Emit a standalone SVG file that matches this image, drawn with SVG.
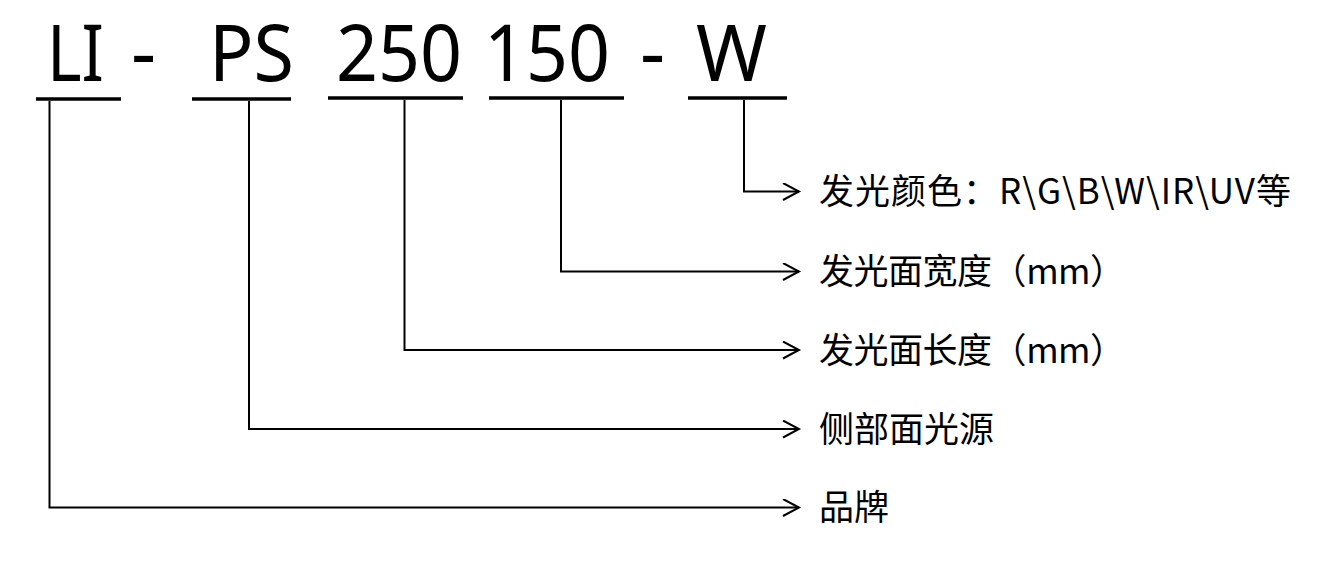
<svg xmlns="http://www.w3.org/2000/svg" width="1320" height="561" viewBox="0 0 1320 561">
<style>
.code{font-family:"Noto Sans","Liberation Sans",sans-serif;font-size:78px;fill:#000}
.lbl{font-family:"Noto Sans CJK SC","Noto Sans",sans-serif;font-size:35px;fill:#000}
.ul{stroke:#000;stroke-width:3.3;fill:none}
.con{stroke:#000;stroke-width:2;fill:none}
</style>
<defs>
<marker id="arr" markerWidth="20" markerHeight="20" refX="17" refY="9" orient="auto" markerUnits="userSpaceOnUse">
<path d="M1,0.5 L17,9 L1,17.5" fill="none" stroke="#000" stroke-width="2"/>
</marker>
</defs>
<rect width="1320" height="561" fill="#fff"/>
<g id="code">
<g id="seg-brand"><text class="code" x="47" y="81" textLength="57" lengthAdjust="spacingAndGlyphs">LI</text><line class="ul" x1="36" y1="99" x2="121" y2="99"/></g>
<text class="code" x="131" y="80">-</text>
<g id="seg-type"><text class="code" x="209" y="81" textLength="85" lengthAdjust="spacingAndGlyphs">PS</text><line class="ul" x1="192" y1="99" x2="291" y2="99"/></g>
<g id="seg-length"><text class="code" x="336" y="81" textLength="126" lengthAdjust="spacingAndGlyphs">250</text><line class="ul" x1="328" y1="98" x2="463" y2="98"/></g>
<g id="seg-width"><text class="code" x="484" y="81" textLength="126" lengthAdjust="spacingAndGlyphs">150</text><line class="ul" x1="489" y1="98" x2="624" y2="98"/></g>
<text class="code" x="640" y="80">-</text>
<g id="seg-color"><text class="code" x="696" y="81" textLength="71" lengthAdjust="spacingAndGlyphs">W</text><line class="ul" x1="688" y1="98" x2="787" y2="98"/></g>
</g>
<g id="connectors">
<path class="con" d="M744,100 V191.5 H799" marker-end="url(#arr)"/>
<path class="con" d="M561,100 V271.5 H799" marker-end="url(#arr)"/>
<path class="con" d="M404.5,100 V350 H799" marker-end="url(#arr)"/>
<path class="con" d="M249,101 V429 H799" marker-end="url(#arr)"/>
<path class="con" d="M49.5,101 V507.5 H799" marker-end="url(#arr)"/>
</g>
<g id="label-color"><text class="lbl" x="819" y="204" textLength="472" lengthAdjust="spacing">发光颜色：R\G\B\W\IR\UV等</text></g>
<g id="label-width"><text class="lbl" x="819" y="284" textLength="306" lengthAdjust="spacing">发光面宽度（mm）</text></g>
<g id="label-length"><text class="lbl" x="819" y="362.5" textLength="306" lengthAdjust="spacing">发光面长度（mm）</text></g>
<g id="label-type"><text class="lbl" x="819" y="441.5">侧部面光源</text></g>
<g id="label-brand"><text class="lbl" x="819" y="520">品牌</text></g>
</svg>
